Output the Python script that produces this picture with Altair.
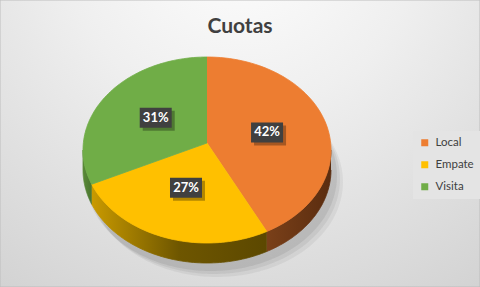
import altair as alt
import pandas as pd

# ---- data ----
categories = ["Local", "Empate", "Visita"]
values = [42, 27, 31]
colors = ["#ED7D31", "#FFC000", "#70AD47"]
title_text = ["Cuotas"]

# ---- geometry / style ----
W, H = 480, 287
CX, CY, AY = 207, 150, 143
RX, RY = 124, 93
DEPTH = 20
N = 72
LR = 0.5
FONT = "Lato"

side_styles = {
    "Local": ["#7a4019", "#5a2c0f"],
    "Empate": ["#c99a00", "#6e5600", "#5c4800"],
    "Visita": ["#5a8a38", "#4a7530"],
}

df = pd.DataFrame({"category": categories, "value": values, "order": list(range(len(categories)))})

xs = alt.Scale(domain=[0, W])
ys = alt.Scale(domain=[0, H], reverse=True)


def grad(cols):
    n = len(cols)
    return alt.LinearGradient(
        gradient="linear",
        stops=[alt.GradientStop(color=c, offset=i / (n - 1)) for i, c in enumerate(cols)],
        x1=0, x2=1, y1=0, y2=0,
    )


base = alt.Chart(df).transform_joinaggregate(
    total="sum(value)"
).transform_window(
    cum="sum(value)", sort=[alt.SortField("order")], frame=[None, 0]
).transform_calculate(
    a0="2*PI*(datum.cum - datum.value)/datum.total",
    a1="2*PI*datum.cum/datum.total",
)

# background
bg = alt.Chart(pd.DataFrame({"a": [0]})).mark_rect(
    fill=alt.RadialGradient(
        gradient="radial",
        stops=[alt.GradientStop(color="#ffffff", offset=0),
               alt.GradientStop(color="#efefef", offset=0.4),
               alt.GradientStop(color="#d0d0d0", offset=1)],
        x1=0.5, y1=0.05, r1=0, x2=0.5, y2=0.05, r2=0.95,
    ),
    stroke="#bdbdbd", strokeWidth=1,
).encode(x=alt.value(0), x2=alt.value(W), y=alt.value(0), y2=alt.value(H))

# shadow beneath pie
shadow_layers = []
for i, (dx, dy, op) in enumerate([(10, 12, 0.05), (7, 9, 0.06), (4, 6, 0.07)]):
    sh = base.transform_calculate(k=f"sequence(-1, {N+1})").transform_flatten(["k"]).transform_calculate(
        t=f"datum.a0 + (datum.a1 - datum.a0) * max(datum.k, 0) / {N}"
    ).transform_calculate(
        px=f"datum.k < 0 ? {CX + dx} : {CX + dx} + {RX + 2} * sin(datum.t)",
        py=f"datum.k < 0 ? {AY + DEPTH + dy} : {CY + DEPTH + dy} - {RY + 2} * cos(datum.t)",
    ).mark_line(fill="#000000", fillOpacity=op, strokeWidth=0, stroke="transparent").encode(
        x=alt.X("px:Q", scale=xs, axis=None),
        y=alt.Y("py:Q", scale=ys, axis=None),
        order="k:Q",
        detail="category:N",
    )
    shadow_layers.append(sh)

# sides
side_base = base.transform_calculate(
    s0="max(datum.a0, PI/2)", s1="min(datum.a1, 3*PI/2)"
).transform_filter("datum.s1 > datum.s0").transform_calculate(
    k=f"sequence(0, {2 * N + 2})"
).transform_flatten(["k"]).transform_calculate(
    t=f"datum.k <= {N} ? datum.s0 + (datum.s1 - datum.s0) * datum.k / {N} : datum.s1 - (datum.s1 - datum.s0) * (datum.k - {N + 1}) / {N}"
).transform_calculate(
    px=f"{CX} + {RX} * sin(datum.t)",
    py=f"{CY} - {RY} * cos(datum.t) + (datum.k > {N} ? {DEPTH} : 0)",
)

side_layers = []
for c in categories:
    g = grad(side_styles[c])
    side_layers.append(
        side_base.transform_filter(alt.datum.category == c).mark_line(
            fill=g, stroke=g, strokeWidth=0.8
        ).encode(
            x=alt.X("px:Q", scale=xs, axis=None),
            y=alt.Y("py:Q", scale=ys, axis=None),
            order="k:Q",
        )
    )

# top face
top = base.transform_calculate(k=f"sequence(-1, {N + 1})").transform_flatten(["k"]).transform_calculate(
    t=f"datum.a0 + (datum.a1 - datum.a0) * max(datum.k, 0) / {N}"
).transform_calculate(
    px=f"datum.k < 0 ? {CX} : {CX} + {RX} * sin(datum.t)",
    py=f"datum.k < 0 ? {AY} : {CY} - {RY} * cos(datum.t)",
).mark_line(strokeWidth=0.8, strokeJoin="round").encode(
    x=alt.X("px:Q", scale=xs, axis=None),
    y=alt.Y("py:Q", scale=ys, axis=None),
    order="k:Q",
    detail="category:N",
    fill=alt.Fill(
        "category:N",
        scale=alt.Scale(domain=categories, range=colors),
        sort=categories,
        legend=alt.Legend(
            title=None, orient="none", legendX=413, legendY=131,
            symbolType="square", symbolSize=49, symbolStrokeWidth=0,
            labelFont=FONT, labelFontSize=11.5, labelColor="#404040",
            rowPadding=9, padding=6, fillColor="#e4e4e4",
            labelOffset=5, labelLimit=80,
        ),
    ),
    stroke=alt.Stroke("category:N", scale=alt.Scale(domain=categories, range=colors), legend=None),
)

# labels
lab = base.transform_calculate(m="(datum.a0 + datum.a1) / 2").transform_calculate(
    lx=f"{CX} + {LR} * {RX} * sin(datum.m)",
    ly=f"{AY} - {LR} * {RY} * cos(datum.m) + 1",
    pct="format(datum.value / datum.total, '.0%')",
).transform_calculate(
    bx0="datum.lx - 16", bx1="datum.lx + 16", by0="datum.ly - 10", by1="datum.ly + 10",
    sx0="datum.lx - 13", sx1="datum.lx + 19", sy0="datum.ly - 7", sy1="datum.ly + 13",
)

lab_shadow = lab.mark_rect(color="#000000", opacity=0.3).encode(
    x=alt.X("sx0:Q", scale=xs, axis=None), x2="sx1:Q",
    y=alt.Y("sy0:Q", scale=ys, axis=None), y2="sy1:Q",
)
lab_box = lab.mark_rect(color="#404040").encode(
    x=alt.X("bx0:Q", scale=xs, axis=None), x2="bx1:Q",
    y=alt.Y("by0:Q", scale=ys, axis=None), y2="by1:Q",
)
lab_text = lab.mark_text(
    font=FONT, fontWeight="bold", fontSize=13, color="#ffffff", align="center", baseline="middle"
).encode(
    x=alt.X("lx:Q", scale=xs, axis=None),
    y=alt.Y("ly:Q", scale=ys, axis=None),
    text="pct:N",
)

title = alt.Chart(pd.DataFrame({"t": title_text})).mark_text(
    font=FONT, fontWeight="bold", fontSize=21, color="#404040", align="center", baseline="alphabetic"
).encode(x=alt.value(240), y=alt.value(33), text="t:N")

chart = alt.layer(
    bg, *shadow_layers, *side_layers, top, lab_shadow, lab_box, lab_text, title
).properties(
    width=W, height=H, padding=0, autosize=alt.AutoSizeParams(type="none")
).configure_view(stroke=None)

chart.save("out.html", embed_options={"renderer": "svg", "actions": False})
